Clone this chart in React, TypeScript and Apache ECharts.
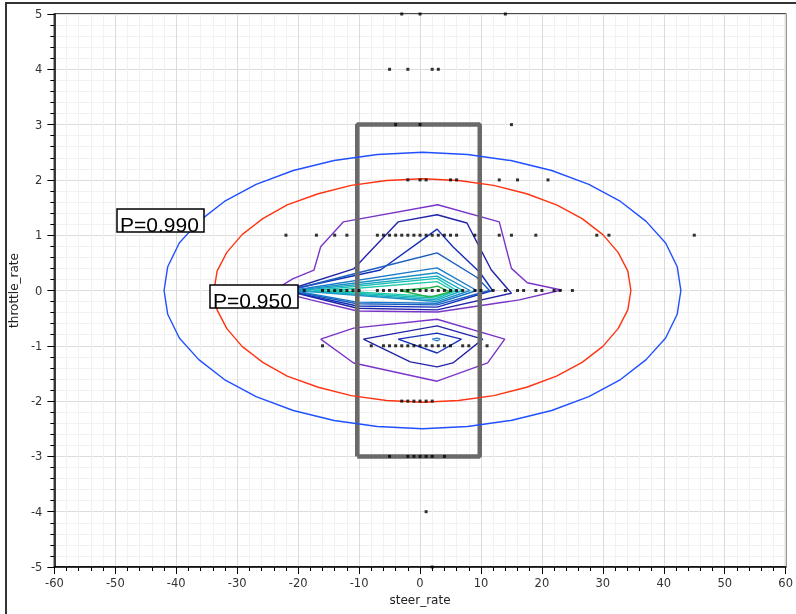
import React, { useEffect, useRef } from "react";
import * as echarts from "echarts";

// ---- Data ----
const ellipse990: number[][] = [
  [42.8, 0], [42.2, 0.43], [40.3, 0.86], [37.1, 1.25], [32.9, 1.61], [27.7, 1.92], [21.6, 2.17], [14.9, 2.35], [7.8, 2.46],
  [0.4, 2.5], [-7.0, 2.46], [-14.1, 2.35], [-20.8, 2.17], [-26.9, 1.92], [-32.1, 1.61], [-36.3, 1.25], [-39.5, 0.86], [-41.4, 0.43],
  [-42.0, 0], [-41.4, -0.43], [-39.5, -0.86], [-36.3, -1.25], [-32.1, -1.61], [-26.9, -1.92], [-20.8, -2.17], [-14.1, -2.35], [-7.0, -2.46],
  [0.4, -2.5], [7.8, -2.46], [14.9, -2.35], [21.6, -2.17], [27.7, -1.92], [32.9, -1.61], [37.1, -1.25], [40.3, -0.86], [42.2, -0.43],
  [42.8, 0],
];
const ellipse950: number[][] = [
  [34.6, 0], [34.1, 0.35], [32.5, 0.69], [30.0, 1.01], [26.6, 1.3], [22.4, 1.55], [17.5, 1.75], [12.1, 1.9], [6.3, 1.99],
  [0.4, 2.02], [-5.5, 1.99], [-11.3, 1.9], [-16.7, 1.75], [-21.8, 1.55], [-25.8, 1.3], [-29.2, 1.01], [-31.7, 0.69], [-33.3, 0.35],
  [-33.8, 0], [-33.3, -0.35], [-31.7, -0.69], [-29.2, -1.01], [-25.8, -1.3], [-21.8, -1.55], [-16.7, -1.75], [-11.3, -1.9], [-5.5, -1.99],
  [0.4, -2.02], [6.3, -1.99], [12.1, -1.9], [17.5, -1.75], [22.4, -1.55], [26.6, -1.3], [30.0, -1.01], [32.5, -0.69], [34.1, -0.35],
  [34.6, 0],
];
const boxRect: number[][] = [[-10.3, -3], [9.8, -3], [9.8, 3], [-10.3, 3], [-10.3, -3]];

const upperPurple: number[][] = [[-24, 0], [-20.9, 0.21], [-17.4, 0.37], [-16.3, 0.79], [-12.6, 1.24], [2.9, 1.55], [13.0, 1.24], [15.0, 0.4], [17.6, 0.14], [23.2, 0.01], [16.3, -0.17], [2.9, -0.39], [-10.3, -0.37], [-17.9, -0.17], [-24, 0]];
const upperNavy1: number[][] = [[-22, 0], [-10.9, 0.39], [-3.6, 1.24], [2.8, 1.37], [7.7, 1.22], [11.7, 0.37], [15.0, -0.05], [2.8, -0.35], [-10.3, -0.32], [-22, 0]];
const upperNavy2: number[][] = [[-22, 0], [-6.5, 0.37], [2.8, 1.11], [5.4, 0.79], [9.8, 0.33], [11.9, 0.0], [2.8, -0.3], [-10.3, -0.28], [-22, 0]];
const upperBlue3: number[][] = [[-21.5, 0], [-9.8, 0.33], [2.8, 0.68], [9.3, 0.24], [11.4, 0], [2.8, -0.26], [-10.3, -0.24], [-21.5, 0]];
const upperBlue4: number[][] = [[-21, 0], [2.8, 0.41], [9.3, 0], [2.8, -0.23], [-10.3, -0.21], [-21, 0]];
const upperBlue5: number[][] = [[-20.5, 0], [2.8, 0.32], [8.2, 0], [2.8, -0.2], [-20.5, 0]];
const upperTeal6: number[][] = [[-19.5, 0], [2.8, 0.26], [7.0, 0], [2.8, -0.17], [-19.5, 0]];
const upperTeal7: number[][] = [[-17.5, 0], [2.8, 0.22], [6.0, 0], [2.8, -0.14], [-17.5, 0]];
const upperCyan8: number[][] = [[-14.7, 0], [2.8, 0.16], [5.4, 0], [2.8, -0.11], [-14.7, 0]];
const upperGreen9: number[][] = [[-3.3, 0], [1.6, 0.05], [2.9, 0.08], [4.9, -0.03], [1.6, -0.12], [-3.3, 0]];

const lowerPurple: number[][] = [[-16.3, -0.88], [-10.9, -0.68], [2.8, -0.52], [13.9, -0.88], [11.1, -1.31], [2.8, -1.64], [-10.9, -1.31], [-16.3, -0.88]];
const lowerNavy1: number[][] = [[-9.3, -0.88], [2.8, -0.64], [10.3, -0.88], [5.4, -1.31], [2.8, -1.38], [-1.6, -1.29], [-9.3, -0.88]];
const lowerNavy2: number[][] = [[-3.6, -0.88], [2.8, -0.77], [6.8, -0.88], [2.8, -1.13], [-3.6, -0.88]];
const lowerBlue3: number[][] = [[2.0, -0.88], [2.8, -0.86], [3.3, -0.88], [2.8, -0.91], [2.0, -0.88]];

const contourColors = ["#7a35c8", "#2323a8", "#1530b8", "#1a5dc0", "#1a78c8", "#1b90c8", "#18a8c0", "#1bbfb8", "#20c8a8", "#22b040"];

const row5 = [-3, 0, 14];
const row4 = [-5, -2, 2, 3];
const row3 = [-4, 0, 15];
const row2 = [-2, 0, 1, 5, 6, 13, 16, 21];
const row1 = [-22, -17, -14, -12, -7, -6, -5, -4, -3, -2, -1, 0, 1, 2, 3, 4, 5, 6, 9, 13, 15, 19, 29, 31, 45];
const row0 = [-19, -16, -15, -14, -13, -12, -11, -10, -7, -6, -5, -4, -3, -2, -1, 0, 1, 2, 3, 4, 5, 6, 7, 9, 10, 12, 14, 16, 17, 19, 20, 22, 23, 25];
const rowM1 = [-16, -8, -6, -5, -4, -3, -2, -1, 0, 1, 2, 3, 4, 5, 7, 8, 11];
const rowM2 = [-3, -2, -1, 0, 1, 2];
const rowM3 = [-5, -2, -1, 0, 1, 2, 4];
const rowM4 = [1];
const rowM5 = [2];

const rows: [number, number[]][] = [
  [5, row5], [4, row4], [3, row3], [2, row2], [1, row1], [0, row0],
  [-1, rowM1], [-2, rowM2], [-3, rowM3], [-4, rowM4], [-5, rowM5],
];

const labelTexts = ["P=0.990", "P=0.950"];

const FONT = "DejaVu Sans";

function lineSeries(data: number[][], color: string, width: number, z = 2) {
  return {
    type: "line",
    data,
    symbol: "none",
    showSymbol: false,
    silent: true,
    z,
    lineStyle: { color, width },
    animation: false,
  };
}

export default function App() {
  const ref = useRef<HTMLDivElement>(null);
  useEffect(() => {
    if (!ref.current) return;
    const chart = echarts.init(ref.current, undefined, { renderer: "svg" });
    const points: number[][] = [];
    rows.forEach(([y, xs]) => xs.forEach((x) => points.push([x, y])));

    const axisCommon = {
      type: "value",
      nameLocation: "middle",
      nameTextStyle: { color: "#222", fontSize: 12, fontFamily: FONT },
      axisLine: { show: true, onZero: false, lineStyle: { color: "#000", width: 1.5 } },
      axisTick: { show: true, length: 7, lineStyle: { color: "#000", width: 1 } },
      minorTick: { show: true, splitNumber: 5, length: 4, lineStyle: { color: "#000", width: 1 } },
      splitLine: { show: true, lineStyle: { color: "#dcdcdc", width: 1 } },
      minorSplitLine: { show: true, lineStyle: { color: "#f1f1f1", width: 1 } },
      axisLabel: { color: "#333", fontSize: 11.5, fontFamily: FONT },
    };

    const upper = [upperPurple, upperNavy1, upperNavy2, upperBlue3, upperBlue4, upperBlue5, upperTeal6, upperTeal7, upperCyan8, upperGreen9];
    const lower = [lowerPurple, lowerNavy1, lowerNavy2, lowerBlue3];
    const lowerColors = [contourColors[0], contourColors[1], contourColors[2], "#2a7fd0"];

    const labelFont = "21px 'Liberation Sans', Arial, sans-serif";

    chart.setOption({
      animation: false,
      grid: { left: 52, right: 7, top: 14, bottom: 47, show: true, borderColor: "#111", borderWidth: 1.5, backgroundColor: "#fff" },
      xAxis: { ...axisCommon, min: -60, max: 60, interval: 10, name: "steer_rate", nameGap: 24, axisLabel: { ...axisCommon.axisLabel, margin: 10 } },
      yAxis: { ...axisCommon, min: -5, max: 5, interval: 1, name: "throttle_rate", nameGap: 26, nameRotate: 90, axisLabel: { ...axisCommon.axisLabel, margin: 12 } },
      series: [
        ...upper.map((d, i) => lineSeries(d, contourColors[i], 1.4, 2)),
        ...lower.map((d, i) => lineSeries(d, lowerColors[i], 1.4, 2)),
        lineSeries(boxRect, "#6a6a6a", 4.5, 3),
        lineSeries(ellipse950, "#ff3311", 1.4, 4),
        lineSeries(ellipse990, "#2050ff", 1.4, 4),
        {
          type: "scatter",
          data: points,
          symbol: "rect",
          symbolSize: 3,
          itemStyle: { color: "#000" },
          z: 5,
          silent: true,
        },
      ],
      graphic: [
        { type: "rect", z: 100, silent: true, shape: { x: 6, y: 3, width: 900, height: 900 }, style: { fill: "none", stroke: "#333", lineWidth: 2 } },
        { type: "rect", z: 100, silent: true, shape: { x: 117, y: 209, width: 87, height: 23 }, style: { fill: "#fff", stroke: "#000", lineWidth: 1.5 } },
        { type: "text", z: 101, silent: true, x: 120, y: 214, style: { text: labelTexts[0], fill: "#000", font: labelFont, textVerticalAlign: "top" } },
        { type: "rect", z: 100, silent: true, shape: { x: 210, y: 285, width: 88, height: 23 }, style: { fill: "#fff", stroke: "#000", lineWidth: 1.5 } },
        { type: "text", z: 101, silent: true, x: 213, y: 290, style: { text: labelTexts[1], fill: "#000", font: labelFont, textVerticalAlign: "top" } },
      ],
    });
    return () => chart.dispose();
  }, []);
  return <div ref={ref} style={{ position: "fixed", left: 0, top: 0, width: 796, height: 614 }} />;
}
